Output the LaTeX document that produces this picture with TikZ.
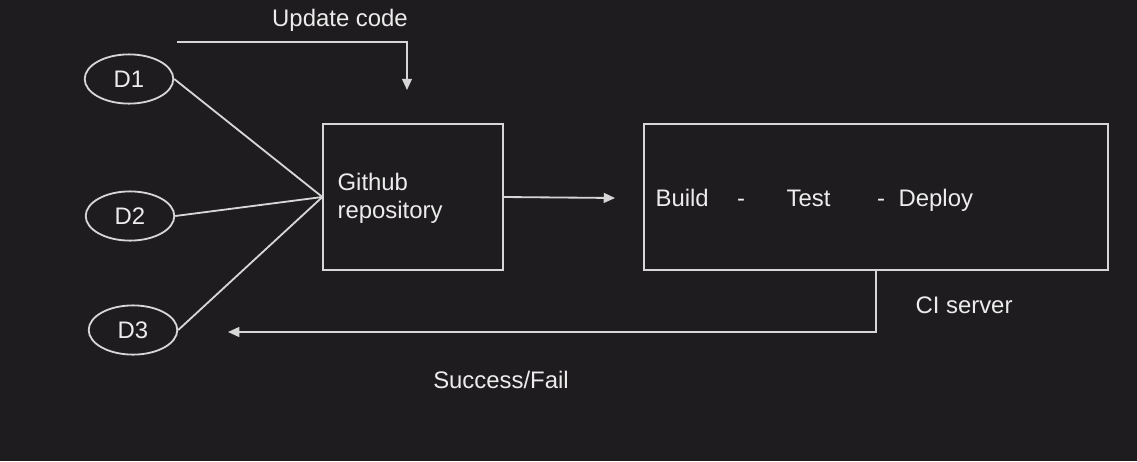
\documentclass[tikz,border=0pt]{standalone}
\usepackage{fontspec}
\setmainfont{Liberation Sans}
\usetikzlibrary{arrows.meta,shapes.geometric}

\definecolor{screen}{HTML}{1E1C1E}
\definecolor{chalk}{HTML}{D6D6D6}
\definecolor{inkwhite}{HTML}{ECECEC}

\begin{document}
\begin{tikzpicture}[x=0.025cm, y=-0.025cm,
    line width=1.3pt, draw=chalk,
    >={Triangle[length=8pt,width=7pt]},
    txt/.style={text=inkwhite, font=\fontsize{17}{20}\selectfont},
    dev/.style={draw=chalk, ellipse, minimum width=63pt, minimum height=35pt,
        inner sep=0pt, txt},
    box/.style={draw=chalk, rectangle, inner sep=0pt}]

    % Dark background, fixes the picture size
    \fill[screen] (0, 0) rectangle (1137, 461);

    % The three developers
    \node[dev] (D1) at (129, 79) {D1};
    \node[dev] (D2) at (130, 216) {D2};
    \node[dev] (D3) at (133, 330) {D3};

    % Github repository box
    \node[box, minimum width=127.6pt, minimum height=103.5pt] (github) at (413, 197) {};
    \node[txt, align=left, anchor=west] (repo) at (332, 198) {Github\\repository};

    % CI server box
    \node[box, minimum width=329.7pt, minimum height=103.5pt] (ci) at (876, 197) {};

    % Pipeline stages inside the CI box, all on one baseline
    \node[txt, anchor=base west] (build) at (650, 206) {Build};
    \node[txt, anchor=base] (dash1) at (741, 206) {-};
    \node[txt, anchor=base west] (test) at (781, 206) {Test};
    \node[txt, anchor=base] (dash2) at (881, 206) {-};
    \node[txt, anchor=base west] (deploy) at (893, 206) {Deploy};

    % Developers push to the repository
    \draw (D1.east) -- (github.west);
    \draw (D2.east) -- (github.west);
    \draw (D3.east) -- (github.west);

    % Update code arrow
    \coordinate (upd) at (177, 42);
    \coordinate (updtip) at (407, 90);
    \draw[->] (upd) -| (updtip);
    \node[txt] (updlabel) at (340, 20) {Update code};

    % Repository triggers the CI server
    \coordinate (citip) at (615, 198);
    \draw[->] (github.east) -- (citip);

    % Result goes back to the developers
    \coordinate (back) at (228, 332);
    \draw[->] (ci.south) |- (back);
    \node[txt] (cilabel) at (964, 305) {CI server};
    \node[txt] (result) at (501, 380) {Success/Fail};

\end{tikzpicture}
\end{document}
